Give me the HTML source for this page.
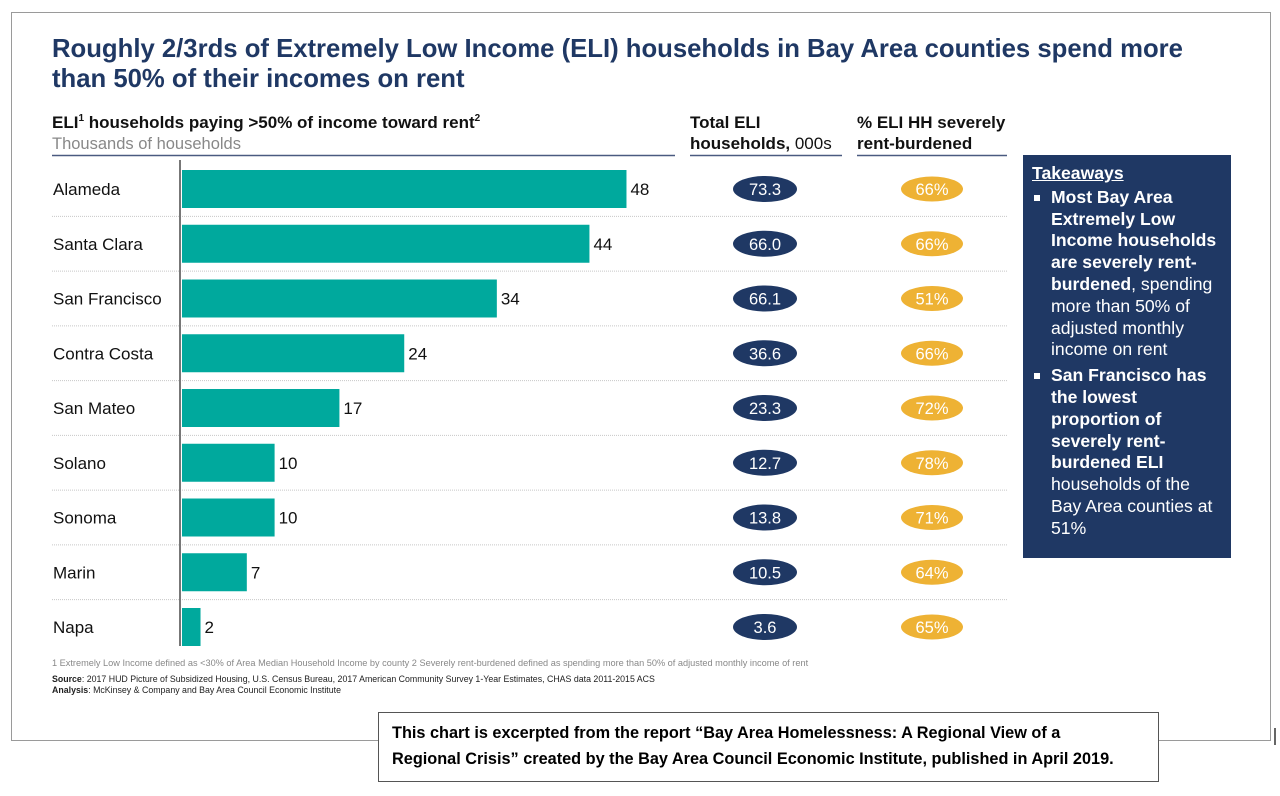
<!DOCTYPE html>
<html><head><meta charset="utf-8"><style>
body{margin:0;width:1280px;height:796px;background:#fff;font-family:"Liberation Sans",Arial,sans-serif;position:relative;overflow:hidden}
.a{position:absolute}
#frame{left:11px;top:12px;width:1260px;height:729px;border:1px solid #9a9a9a;box-sizing:border-box}
#title{left:52px;top:34px;width:1150px;font-size:25.7px;font-weight:bold;color:#1f3864;line-height:30px}
#tk{left:1023px;top:155px;width:208px;height:403px;background:#1f3864;color:#fff;box-sizing:border-box;padding:8px 0 0 9px;font-size:17.6px;line-height:21.8px;white-space:nowrap}
#tk ul{margin:0;padding:0;list-style:none}
#tk li{position:relative;padding-left:19px}
#tk li:before{content:"";position:absolute;left:2px;top:8px;width:6px;height:6px;background:#fff}
#cap{left:378px;top:712px;width:781px;height:70px;border:1px solid #555;box-sizing:border-box;background:#fff;padding:7px 0 0 13px;font-size:16.3px;font-weight:bold;line-height:26px;white-space:nowrap}
</style></head><body>
<div id="frame" class="a"></div>
<div id="title" class="a">Roughly 2/3rds of Extremely Low Income (ELI) households in Bay Area counties spend more than 50% of their incomes on rent</div>
<svg class="a" style="left:0;top:0" width="1280" height="796">
<text x="52" y="128" font-size="17" font-weight="bold" fill="#111">ELI<tspan font-size="10" dy="-7">1</tspan><tspan dy="7"> households paying &gt;50% of income toward rent</tspan><tspan font-size="10" dy="-7">2</tspan></text>
<text x="52" y="149" font-size="16.5" fill="#888">Thousands of households</text>
<line x1="52" x2="675" y1="155.5" y2="155.5" stroke="#4a5a80" stroke-width="1.5"/>
<text x="690" y="128" font-size="17" font-weight="bold" fill="#111">Total ELI</text>
<text x="690" y="149" font-size="17" fill="#111"><tspan font-weight="bold">households,</tspan> 000s</text>
<line x1="690" x2="842" y1="155.5" y2="155.5" stroke="#4a5a80" stroke-width="1.5"/>
<text x="857" y="128" font-size="17" font-weight="bold" fill="#111">% ELI HH severely</text>
<text x="857" y="149" font-size="17" font-weight="bold" fill="#111">rent-burdened</text>
<line x1="857" x2="1007" y1="155.5" y2="155.5" stroke="#4a5a80" stroke-width="1.5"/>
<g id="rows"></g>
<line x1="180" x2="180" y1="160" y2="646" stroke="#777" stroke-width="2"/>
<text x="52" y="666" font-size="9.2" fill="#888">1 Extremely Low Income defined as &lt;30% of Area Median Household Income by county    2 Severely rent-burdened defined as spending more than 50% of adjusted monthly income of rent</text>
<text x="52" y="682" font-size="8.8" fill="#222"><tspan font-weight="bold">Source</tspan>: 2017 HUD Picture of Subsidized Housing, U.S. Census Bureau, 2017 American Community Survey 1-Year Estimates, CHAS data 2011-2015 ACS</text>
<text x="52" y="693" font-size="8.8" fill="#222"><tspan font-weight="bold">Analysis</tspan>: McKinsey &amp; Company and Bay Area Council Economic Institute</text>
<line x1="1275" x2="1275" y1="728" y2="745" stroke="#333" stroke-width="1.5"/>
</svg>
<div id="tk" class="a">
<div style="font-weight:bold;text-decoration:underline;margin-bottom:2px">Takeaways</div>
<ul><li><b>Most Bay Area<br>Extremely Low<br>Income households<br>are severely rent-<br>burdened</b>, spending<br>more than 50% of<br>adjusted monthly<br>income on rent</li>
<li style="margin-top:4px"><b>San Francisco has<br>the lowest<br>proportion of<br>severely rent-<br>burdened ELI</b><br>households of the<br>Bay Area counties at<br>51%</li></ul>
</div>
<div id="cap" class="a">This chart is excerpted from the report “Bay Area Homelessness: A Regional View of a<br>Regional Crisis” created by the Bay Area Council Economic Institute, published in April 2019.</div>
<script>
const counties=["Alameda","Santa Clara","San Francisco","Contra Costa","San Mateo","Solano","Sonoma","Marin","Napa"];
const burdened=[48,44,34,24,17,10,10,7,2];
const totals=["73.3","66.0","66.1","36.6","23.3","12.7","13.8","10.5","3.6"];
const pcts=[66,66,51,66,72,78,71,64,65];
const NS="http://www.w3.org/2000/svg";
const g=document.getElementById('rows');
const x=v=>182+v*9.26;
const yc=i=>189+i*54.75;
function mk(t,a){const e=document.createElementNS(NS,t);for(const k in a)e.setAttribute(k,a[k]);g.appendChild(e);return e;}
counties.forEach((c,i)=>{
 const y=yc(i);
 const lb=mk('text',{x:53,y:y+6,'font-size':17,fill:'#111'});lb.textContent=c;
 
 
 const b=mk('rect',{x:182,y:y-19,width:x(burdened[i])-182,height:38,fill:'#00a99d'});
 
 
 const v=mk('text',{x:x(burdened[i])+4,y:y+6,'font-size':17,fill:'#111'});v.textContent=burdened[i];
 
 
 const e1=mk('ellipse',{cx:765,cy:y,rx:32,ry:13,fill:'#1f3864'});
 
 
 const t1=mk('text',{x:765,y:y+6,'font-size':16.5,fill:'#fff','text-anchor':'middle'});t1.textContent=totals[i];
 
 
 const e2=mk('ellipse',{cx:932,cy:y,rx:31,ry:12.5,fill:'#eeb234'});
 
 
 const t2=mk('text',{x:932,y:y+6,'font-size':16.5,fill:'#fff','text-anchor':'middle'});t2.textContent=pcts[i]+'%';
 
 
 if(i<counties.length-1){const l=mk('line',{x1:52,x2:1007,y1:y+27.4,y2:y+27.4,stroke:'#c8c8c8','stroke-dasharray':'1 1'});
 
 }
});
</script>
</body></html>
